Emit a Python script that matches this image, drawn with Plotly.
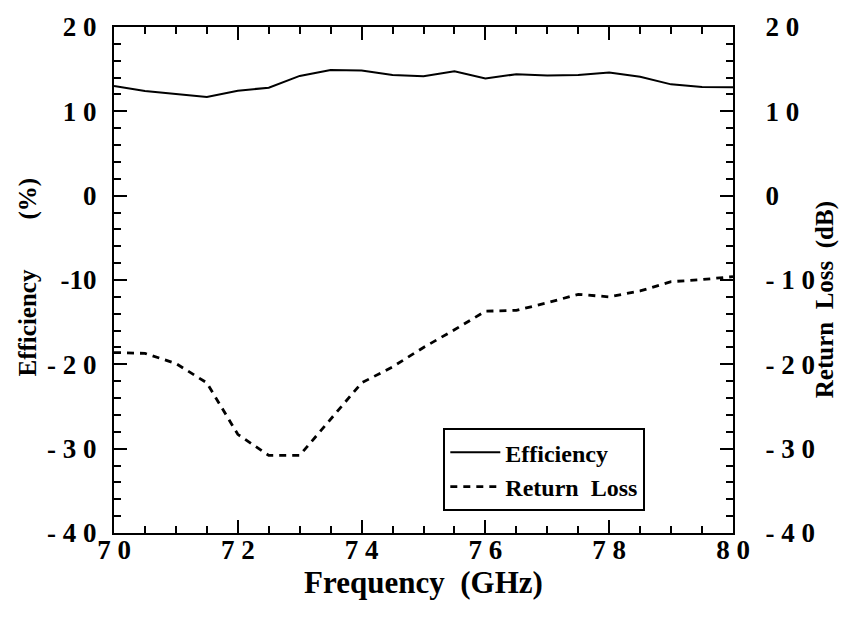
import plotly.graph_objects as go

# Frequency sweep (GHz)
freq_ghz = [70.0, 70.5, 71.0, 71.5, 72.0, 72.5, 73.0, 73.5, 74.0, 74.5, 75.0,
            75.5, 76.0, 76.5, 77.0, 77.5, 78.0, 78.5, 79.0, 79.5, 80.0]

# Antenna efficiency (%)
efficiency_pct = [13.0, 12.4, 12.05, 11.7, 12.45, 12.8, 14.2, 14.9, 14.85, 14.3, 14.15,
                  14.75, 13.9, 14.4, 14.25, 14.3, 14.6, 14.1, 13.2, 12.9, 12.85]

# Return loss (dB)
return_loss_db = [-18.6, -18.7, -19.9, -22.2, -28.3, -30.8, -30.8, -26.5, -22.2, -20.3, -18.0,
                  -15.9, -13.7, -13.6, -12.7, -11.7, -12.0, -11.3, -10.2, -9.95, -9.6]

# Tick positions and labels
x_ticks = [70, 72, 74, 76, 78, 80]
x_tick_text = ["7 0", "7 2", "7 4", "7 6", "7 8", "8 0"]
y_ticks = [20, 10, 0, -10, -20, -30, -40]
y_left_text = ["2 0", "1 0", "0", "-10", "- 2 0", "- 3 0", "- 4 0"]
y_right_text = ["2 0", "1 0", "0", "- 1 0", "- 2 0", "- 3 0", "- 4 0"]

SERIF = "Liberation Serif"
tick_font = dict(family=SERIF, size=27, color="black", weight="bold")
x_title_font = dict(family=SERIF, size=31, color="black", weight="bold")
y_title_font = dict(family=SERIF, size=25, color="black", weight="bold")

fig = go.Figure()
fig.add_trace(go.Scatter(
    x=freq_ghz, y=efficiency_pct, name="Efficiency", mode="lines",
    line=dict(color="black", width=2), yaxis="y"))
fig.add_trace(go.Scatter(
    x=freq_ghz, y=return_loss_db, name="Return  Loss", mode="lines",
    line=dict(color="black", width=2.8, dash="7px,6px"), yaxis="y2"))

axis_common = dict(
    showgrid=False, zeroline=False, showline=True, linecolor="black", linewidth=2,
    ticks="inside", ticklen=13, tickwidth=2, tickcolor="black",
    tickfont=tick_font,
)
minor_common = dict(ticks="inside", ticklen=7, tickwidth=2, tickcolor="black", showgrid=False)

fig.update_layout(
    width=845, height=621,
    margin=dict(l=114, r=112, t=27, b=88),
    paper_bgcolor="white", plot_bgcolor="white",
    xaxis=dict(
        range=[70, 80], tickvals=x_ticks, ticktext=x_tick_text, mirror="ticks",
        minor=dict(dtick=0.5, **minor_common),
        title=dict(text="Frequency  (GHz)", font=x_title_font, standoff=0),
        ticklabelstandoff=-8,
        **axis_common),
    yaxis=dict(
        range=[-40, 20], tickvals=y_ticks, ticktext=y_left_text,
        minor=dict(dtick=2, **minor_common),
        ticklabelstandoff=10,
        **axis_common),
    yaxis2=dict(
        range=[-40, 20], tickvals=y_ticks, ticktext=y_right_text,
        overlaying="y", side="right",
        minor=dict(dtick=2, **minor_common),
        ticklabelstandoff=25,
        **axis_common),
    legend=dict(
        x=0.532, y=0.207, xanchor="left", yanchor="top",
        bgcolor="white", bordercolor="black", borderwidth=2,
        font=dict(family=SERIF, size=24, color="black", weight="bold"),
        itemwidth=50, tracegroupgap=0,
    ),
    showlegend=True,
)

# Vertical axis titles as rotated annotations beside the tick labels
fig.add_annotation(
    text="Efficiency        (%)", textangle=-90, font=y_title_font,
    xref="paper", yref="paper", x=0.0, y=0.505, xshift=-86,
    xanchor="center", yanchor="middle", showarrow=False,
)
fig.add_annotation(
    text="Return  Loss  (dB)", textangle=-90, font=y_title_font,
    xref="paper", yref="paper", x=1.0, y=0.46, xshift=92,
    xanchor="center", yanchor="middle", showarrow=False,
)

fig.write_html("out.html")
